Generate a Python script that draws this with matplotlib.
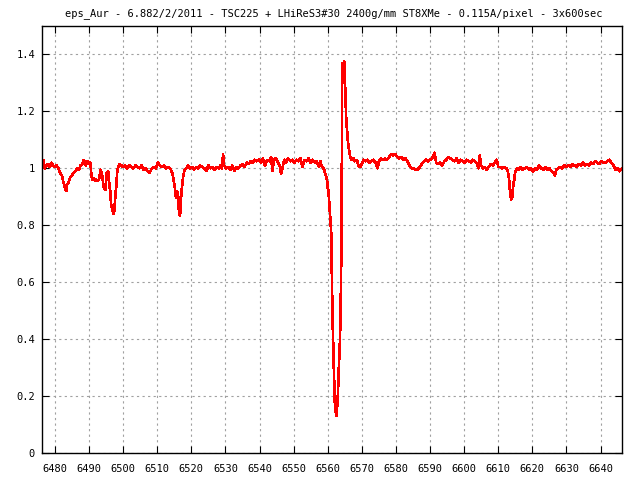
import matplotlib
matplotlib.use("Agg")
import matplotlib.pyplot as plt

# spectrum (wavelength in A, relative flux)
wavelength = [
    6476.2, 6476.6, 6477.0, 6477.5, 6478.0, 6478.5, 6479.0, 6479.5, 6480.0, 6480.5,
    6481.0, 6481.5, 6482.0, 6482.5, 6483.0, 6483.3, 6483.6, 6484.0, 6484.5, 6485.0,
    6485.5, 6486.0, 6486.5, 6487.0, 6487.5, 6488.0, 6488.5, 6489.0, 6489.5, 6490.0,
    6490.4, 6490.7, 6491.0, 6491.4, 6491.8, 6492.2, 6492.6, 6493.0, 6493.4, 6493.8,
    6494.1, 6494.4, 6494.8, 6495.2, 6495.6, 6495.9, 6496.2, 6496.5, 6496.8, 6497.1,
    6497.4, 6497.7, 6498.0, 6498.3, 6498.6, 6499.0, 6499.5, 6500.0, 6500.6, 6501.2,
    6501.8, 6502.4, 6503.0, 6503.6, 6504.2, 6504.8, 6505.4, 6506.0, 6506.6, 6507.2,
    6507.8, 6508.4, 6509.0, 6509.6, 6510.2, 6510.8, 6511.4, 6512.0, 6512.6, 6513.2,
    6513.8, 6514.2, 6514.6, 6514.9, 6515.2, 6515.5, 6515.8, 6516.1, 6516.4, 6516.7,
    6517.0, 6517.3, 6517.6, 6518.0, 6518.5, 6519.0, 6519.6, 6520.2, 6520.8, 6521.4,
    6522.0, 6522.6, 6523.2, 6523.8, 6524.4, 6525.0, 6525.6, 6526.2, 6526.8, 6527.4,
    6528.0, 6528.6, 6529.0, 6529.3, 6529.6, 6530.2, 6530.8, 6531.4, 6532.0, 6532.6,
    6533.2, 6533.8, 6534.4, 6535.0, 6535.6, 6536.2, 6536.8, 6537.4, 6538.0, 6538.6,
    6539.2, 6539.8, 6540.4, 6541.0, 6541.6, 6542.2, 6542.8, 6543.4, 6543.8, 6544.2,
    6544.8, 6545.4, 6545.9, 6546.3, 6546.7, 6547.2, 6547.8, 6548.4, 6549.0, 6549.6,
    6550.2, 6550.8, 6551.4, 6552.0, 6552.6, 6553.2, 6553.8, 6554.4, 6555.0, 6555.6,
    6556.2, 6556.8, 6557.4, 6557.8, 6558.2, 6558.8, 6559.3, 6559.8, 6560.0, 6560.2,
    6560.5, 6561.0, 6561.4, 6561.8, 6562.1, 6562.5, 6562.9, 6563.3, 6563.6, 6563.9,
    6564.1, 6564.2, 6564.4, 6564.7, 6564.9, 6565.1, 6565.4, 6565.8, 6566.1, 6566.6,
    6567.0, 6567.5, 6568.0, 6568.6, 6569.0, 6569.5, 6570.0, 6570.5, 6571.0, 6571.6,
    6572.2, 6572.8, 6573.4, 6574.0, 6574.6, 6575.0, 6575.6, 6576.2, 6576.8, 6577.4,
    6578.0, 6578.6, 6579.2, 6579.8, 6580.4, 6581.0, 6581.6, 6582.2, 6582.8, 6583.4,
    6584.0, 6584.6, 6585.2, 6585.8, 6586.4, 6587.0, 6587.6, 6588.2, 6588.8, 6589.4,
    6590.0, 6590.6, 6591.3, 6591.8, 6592.4, 6593.0, 6593.6, 6594.2, 6594.8, 6595.4,
    6596.0, 6596.6, 6597.2, 6597.8, 6598.4, 6599.0, 6599.6, 6600.2, 6600.8, 6601.4,
    6602.0, 6602.6, 6603.2, 6603.8, 6604.2, 6604.6, 6605.0, 6605.5, 6606.0, 6606.6,
    6607.2, 6607.8, 6608.4, 6609.0, 6609.6, 6610.0, 6610.6, 6611.2, 6611.8, 6612.4,
    6612.8, 6613.2, 6613.5, 6613.8, 6614.1, 6614.4, 6614.7, 6615.0, 6615.5, 6616.0,
    6616.6, 6617.2, 6617.8, 6618.4, 6619.0, 6619.6, 6620.2, 6620.8, 6621.4, 6622.0,
    6622.6, 6623.2, 6623.8, 6624.4, 6625.0, 6625.6, 6626.2, 6626.6, 6627.0, 6627.6,
    6628.2, 6628.8, 6629.4, 6630.0, 6630.6, 6631.2, 6631.8, 6632.4, 6633.0, 6633.6,
    6634.2, 6634.8, 6635.4, 6636.0, 6636.6, 6637.2, 6637.8, 6638.4, 6639.0, 6639.6,
    6640.2, 6640.8, 6641.4, 6642.0, 6642.6, 6643.2, 6643.8, 6644.4, 6645.0, 6645.6,
    6646.3,
]
flux = [
    1.01, 1.03, 1.00, 1.01, 1.015, 1.005, 1.02, 1.01, 1.005, 1.01,
    1.0, 0.985, 0.975, 0.95, 0.93, 0.92, 0.945, 0.95, 0.97, 0.975,
    0.985, 0.99, 1.0, 0.995, 1.01, 1.015, 1.03, 1.01, 1.025, 1.015,
    1.02, 0.975, 0.96, 0.965, 0.955, 0.96, 0.955, 0.965, 0.995, 0.98,
    0.95, 0.93, 0.925, 0.985, 0.99, 0.95, 0.92, 0.87, 0.86, 0.84,
    0.85, 0.90, 0.94, 0.995, 1.005, 1.015, 1.01, 1.005, 1.01, 1.0,
    1.01, 1.005, 1.0, 1.01, 1.005, 1.0, 1.01, 0.995, 1.0, 0.99,
    0.985, 1.0, 1.005, 1.0, 1.02, 1.01, 1.005, 1.01, 1.0, 1.005,
    1.0, 0.99, 0.975, 0.95, 0.93, 0.895, 0.92, 0.91, 0.84, 0.835,
    0.90, 0.94, 0.97, 0.995, 1.0, 1.01, 1.0, 1.005, 0.995, 1.005,
    1.0, 1.01, 1.005, 1.0, 0.99, 1.01, 1.0, 1.005, 0.995, 1.005,
    1.0, 1.01, 1.0, 1.05, 1.01, 1.0, 1.005, 0.995, 1.01, 0.99,
    1.005, 1.0, 1.01, 1.015, 1.005, 1.02, 1.015, 1.025, 1.02, 1.03,
    1.025, 1.03, 1.02, 1.035, 1.01, 1.03, 1.025, 1.04, 0.99, 1.03,
    1.035, 1.02, 1.01, 0.98, 1.0, 1.03, 1.02, 1.035, 1.025, 1.03,
    1.02, 1.03, 1.025, 1.035, 1.005, 1.03, 1.025, 1.035, 1.02, 1.03,
    1.02, 1.025, 1.005, 1.025, 1.01, 1.0, 0.98, 0.96, 0.93, 0.92,
    0.87, 0.78, 0.48, 0.29, 0.17, 0.13, 0.18, 0.315, 0.40, 0.60,
    0.88, 1.285, 1.37, 1.35, 1.375, 1.29, 1.18, 1.11, 1.075, 1.04,
    1.03, 1.035, 1.025, 1.03, 1.01, 1.005, 1.015, 1.03, 1.025, 1.03,
    1.02, 1.025, 1.03, 1.02, 1.0, 1.025, 1.035, 1.03, 1.035, 1.03,
    1.04, 1.05, 1.045, 1.05, 1.04, 1.035, 1.04, 1.03, 1.035, 1.025,
    1.01, 1.0, 1.0, 0.995, 0.995, 1.005, 1.015, 1.025, 1.03, 1.025,
    1.03, 1.035, 1.055, 1.02, 1.015, 1.02, 1.01, 1.025, 1.03, 1.04,
    1.035, 1.03, 1.025, 1.035, 1.02, 1.03, 1.025, 1.02, 1.03, 1.025,
    1.02, 1.03, 1.025, 1.015, 1.0, 1.045, 1.01, 1.0, 1.005, 0.995,
    1.005, 1.015, 1.01, 1.02, 1.03, 1.005, 1.005, 1.0, 1.005, 1.0,
    0.99, 0.96, 0.91, 0.89, 0.90, 0.94, 0.96, 0.99, 1.0, 0.995,
    1.005, 0.995, 1.0, 1.005, 0.995, 1.0, 0.99, 1.0, 0.995, 1.01,
    1.0, 0.995, 1.005, 0.995, 1.0, 0.99, 0.985, 0.975, 0.995, 1.0,
    1.005, 1.0, 1.01, 1.005, 1.01, 1.005, 1.015, 1.01, 1.005, 1.015,
    1.01, 1.02, 1.01, 1.015, 1.01, 1.02, 1.015, 1.025, 1.02, 1.015,
    1.025, 1.02, 1.02, 1.025, 1.03, 1.02, 1.01, 0.995, 1.0, 0.99,
    1.0,
]

x_ticks = list(range(6480, 6641, 10))
y_ticks = [0, 0.2, 0.4, 0.6, 0.8, 1, 1.2, 1.4]
y_tick_labels = ["0", "0.2", "0.4", "0.6", "0.8", "1", "1.2", "1.4"]
title = "eps_Aur - 6.882/2/2011 - TSC225 + LHiReS3#30 2400g/mm ST8XMe - 0.115A/pixel - 3x600sec"

plt.rcParams['font.family'] = ['DejaVu Sans Mono']
plt.rcParams['font.size'] = 7.5

fig = plt.figure(figsize=(6.4, 4.8), dpi=100)
ax = fig.add_axes([42 / 640, 27 / 480, 580 / 640, 427 / 480])

ax.plot(wavelength, flux, color='#ff0000', linewidth=1.2, antialiased=False)

ax.set_xlim(6476.2, 6646.3)
ax.set_ylim(0, 1.5)
ax.set_xticks(x_ticks)
ax.set_yticks(y_ticks)
ax.set_yticklabels(y_tick_labels)
ax.grid(True, color='#a0a0a0', linestyle=(0, (2, 3)), linewidth=0.8)
ax.tick_params(axis='x', direction='in', top=True, length=5, width=0.8, pad=8)
ax.tick_params(axis='y', direction='in', right=True, length=5, width=0.8, pad=5)
for s in ax.spines.values():
    s.set_linewidth(1.0)

fig.text(334 / 640, 1 - 14 / 480, title, ha='center', va='center', fontsize=7.5)

fig.savefig("out.png", dpi=100)
